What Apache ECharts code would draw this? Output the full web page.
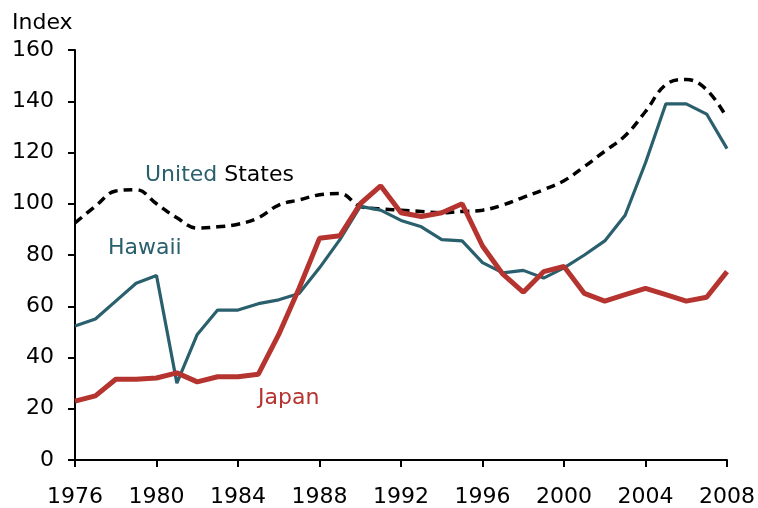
<!DOCTYPE html>
<html><head><meta charset="utf-8">
<script src="https://cdn.jsdelivr.net/npm/echarts@6/dist/echarts.min.js"></script>
<style>html,body{margin:0;padding:0;background:#fff}#c{width:758px;height:508px}</style>
</head><body><div id="c"></div>
<script>
const years = [1976,1977,1978,1979,1980,1981,1982,1983,1984,1985,1986,1987,1988,1989,1990,1991,1992,1993,1994,1995,1996,1997,1998,1999,2000,2001,2002,2003,2004,2005,2006,2007,2008];
const hawaii = [52.3,55,62,69,72,30,49,58.5,58.5,61,62.5,65,75,86,99,97.5,93.5,91,86,85.5,77,73,74,71,75,80,85.5,95.5,116,139,139,135,121.5];
const japan = [23,25,31.5,31.5,32,34,30.5,32.5,32.5,33.5,49,67,86.5,87.5,100,107,96.5,95,96.5,100,83.5,72.5,65.5,73.5,75.5,65,62,64.5,67,64.5,62,63.5,73.5];
const us = [92.5,99,105,105.5,100,94.5,90.5,91,92,94.5,99.5,101.5,103.5,104,99,98,97.5,97,96.5,97,97.5,99.5,102.5,105.5,109,114.5,120.5,126.5,136,146.5,148.5,144.5,133.5];
const yTicks = [0,20,40,60,80,100,120,140,160];
const xTicks = [1976,1980,1984,1988,1992,1996,2000,2004,2008];

const TEAL = '#2a5f6d', RED = '#b5342f';
const FONT = 'DejaVu Sans';
const FS = 22;
const pair = a => years.map((y,i)=>[y,a[i]]);
const chart = echarts.init(document.getElementById('c'));
const txt = (x,y,t,fill)=>({type:'text',x:x,y:y,style:{text:t,fontFamily:FONT,fontSize:FS,fill:fill,verticalAlign:'middle',align:'left'}});
chart.setOption({
  animation:false,
  grid:{left:75,right:31,top:50,bottom:48},
  xAxis:{type:'value',min:xTicks[0],max:xTicks[xTicks.length-1],interval:4,
    axisLine:{lineStyle:{color:'#000',width:2}},
    axisTick:{show:true,length:7,lineStyle:{color:'#000',width:2}},
    splitLine:{show:false},
    axisLabel:{color:'#000',fontFamily:FONT,fontSize:FS,margin:26,formatter:v=>String(v)}},
  yAxis:{type:'value',min:yTicks[0],max:yTicks[yTicks.length-1],interval:20,
    axisLine:{show:true,lineStyle:{color:'#000',width:2}},
    axisTick:{show:true,length:7,lineStyle:{color:'#000',width:2}},
    splitLine:{show:false},
    axisLabel:{color:'#000',fontFamily:FONT,fontSize:FS,margin:21}},
  graphic:[
    txt(12,23,'Index','#000'),
    {type:'text',x:145,y:175,style:{text:'{a|United} {b|States}',fontFamily:FONT,fontSize:FS,verticalAlign:'middle',
      rich:{a:{fill:TEAL,color:TEAL,fontFamily:FONT,fontSize:FS},b:{fill:'#000',color:'#000',fontFamily:FONT,fontSize:FS}}}},
    txt(108,248,'Hawaii',TEAL),
    txt(258,398,'Japan',RED)
  ],
  series:[
    {type:'line',data:pair(us),smooth:0.4,symbol:'none',lineStyle:{color:'#000',width:3.5,type:[9,6]}},
    {type:'line',data:pair(hawaii),symbol:'none',lineStyle:{color:TEAL,width:3.2}},
    {type:'line',data:pair(japan),symbol:'none',lineStyle:{color:RED,width:5}}
  ]
});
</script></body></html>
